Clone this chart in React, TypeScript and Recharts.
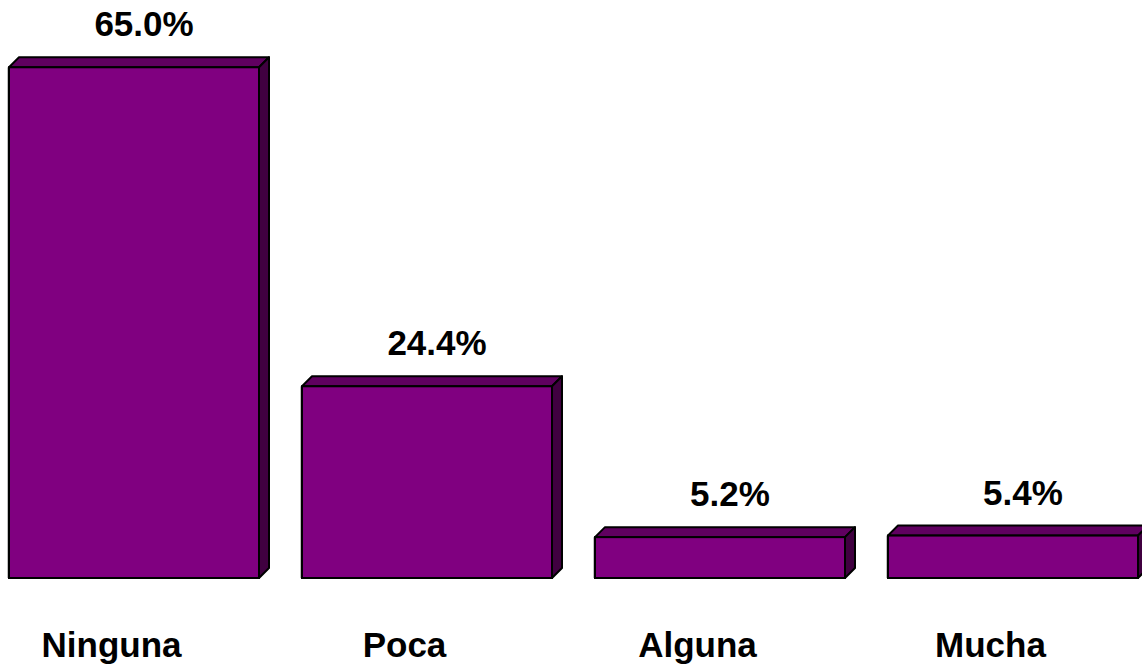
import React from "react";
import { BarChart, Bar, XAxis, YAxis, LabelList } from "recharts";

const categories = ["Ninguna", "Poca", "Alguna", "Mucha"];
const values = [65.0, 24.4, 5.2, 5.4];
const valueLabels = ["65.0%", "24.4%", "5.2%", "5.4%"];

const data = categories.map((c, i) => ({ name: c, value: values[i], label: valueLabels[i] }));

const DEPTH = 10;

const Bar3D = (props: any) => {
  const { x, y, width, height } = props;
  if (width == null || height == null) return null;
  const d = DEPTH;
  const top = `M${x},${y} L${x + d},${y - d} L${x + width + d},${y - d} L${x + width},${y} Z`;
  const side = `M${x + width},${y} L${x + width + d},${y - d} L${x + width + d},${y + height - d} L${x + width},${y + height} Z`;
  return (
    <g>
      <line x1={x - 1.5} y1={y} x2={x - 1.5} y2={y + height} stroke="#c0c0c0" strokeWidth={1} />
      <path d={top} fill="#600060" stroke="#000" strokeWidth={2} strokeLinejoin="round" />
      <path d={side} fill="#400040" stroke="#000" strokeWidth={2} strokeLinejoin="round" />
      <rect x={x} y={y} width={width} height={height} fill="#800080" stroke="#000" strokeWidth={2} />
    </g>
  );
};

const ValueLabel = (props: any) => {
  const { x, y, width, value } = props;
  return (
    <text
      x={x + width / 2 + 10}
      y={y - 31}
      textAnchor="middle"
      fontFamily="Liberation Sans, Arial, sans-serif"
      fontWeight="bold"
      fontSize={35}
      fill="#000"
    >
      {value}
    </text>
  );
};

const CatTick = (props: any) => {
  const { x, payload } = props;
  return (
    <text
      x={x - 22}
      y={657}
      textAnchor="middle"
      fontFamily="Liberation Sans, Arial, sans-serif"
      fontWeight="bold"
      fontSize={35}
      fill="#000"
    >
      {payload.value}
    </text>
  );
};

export default function App() {
  return (
    <div style={{ position: "absolute", left: 0, top: 0, width: 1142, height: 668, overflow: "hidden", background: "#fff" }}>
      <div style={{ marginLeft: -13 }}>
        <BarChart
          width={1172}
          height={668}
          data={data}
          margin={{ top: 28, right: 0, bottom: 60, left: 0 }}
        >
          <XAxis dataKey="name" height={30} axisLine={false} tickLine={false} tick={<CatTick />} interval={0} />
          <YAxis hide domain={[0, 70]} />
          <Bar dataKey="value" barSize={250} shape={<Bar3D />} isAnimationActive={false}>
            <LabelList dataKey="label" content={<ValueLabel />} />
          </Bar>
        </BarChart>
      </div>
    </div>
  );
}
